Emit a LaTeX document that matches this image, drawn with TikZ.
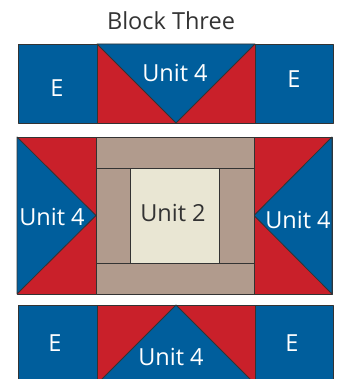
\documentclass[tikz,border=0pt]{standalone}
\usepackage{fontspec}
\setmainfont{Open Sans}
\definecolor{qblue}{HTML}{005E9C}
\definecolor{qred}{HTML}{C9202A}
\definecolor{qtan}{HTML}{B19B8D}
\definecolor{qcream}{HTML}{E9E6D3}
\definecolor{qline}{HTML}{333333}
\begin{document}
\begin{tikzpicture}[x=1pt,y=-1pt,
  patch/.style={draw=qline, line width=0.8pt, line join=round},
  wlabel/.style={text=white, font=\fontsize{23.5}{23.5}\selectfont, inner sep=0pt},
  dlabel/.style={text=qline, font=\fontsize{23.5}{23.5}\selectfont, inner sep=0pt},
  tlabel/.style={text=qline, font=\fontsize{23.5}{23.5}\selectfont, inner sep=0pt}]
\useasboundingbox (0,0) rectangle (341,379);
\begin{scope}
\clip (0,0) rectangle (341,379);
% ---- top row ----
\fill[qblue, patch] (18,44) rectangle (97,123);
\fill[qred, patch] (97,44) rectangle (255,123);
\fill[qblue, patch] (97,44) -- (255,44) -- (176,123) -- cycle;
\fill[qblue, patch] (255,44) rectangle (333,123);
% ---- middle row ----
\fill[qred, patch] (17,137) rectangle (96,294);
\fill[qblue, patch] (17,137) -- (96,215.5) -- (17,294) -- cycle;
\fill[qred, patch] (254,137) rectangle (332,294);
\fill[qblue, patch] (332,137) -- (254,215.5) -- (332,294) -- cycle;
\fill[qtan, patch] (96,137) rectangle (254,168);
\fill[qtan, patch] (96,263) rectangle (254,294);
\fill[qtan, patch] (96,168) rectangle (130,263);
\fill[qtan, patch] (219,168) rectangle (254,263);
\fill[qcream, patch] (130,168) rectangle (219,263);
% ---- bottom row ----
\fill[qblue, patch] (18,305) rectangle (97,384);
\fill[qred, patch] (97,305) rectangle (255,384);
\fill[qblue, patch] (176,305) -- (255,384) -- (97,384) -- cycle;
\fill[qblue, patch] (255,305) rectangle (333,384);
\end{scope}
% ---- labels ----
\node[tlabel] (title) at (171,21) {Block Three};
\node[wlabel] (e1) at (57,88) {E};
\node[wlabel] (u1) at (175,73) {Unit 4};
\node[wlabel] (e2) at (294,79) {E};
\node[wlabel] (u2) at (52,217) {Unit 4};
\node[dlabel] (u3) at (173,213) {Unit 2};
\node[wlabel] (u4) at (298,220) {Unit 4};
\node[wlabel] (e3) at (55,343) {E};
\node[wlabel] (u5) at (171,357) {Unit 4};
\node[wlabel] (e4) at (292,343) {E};
\end{tikzpicture}
\end{document}
